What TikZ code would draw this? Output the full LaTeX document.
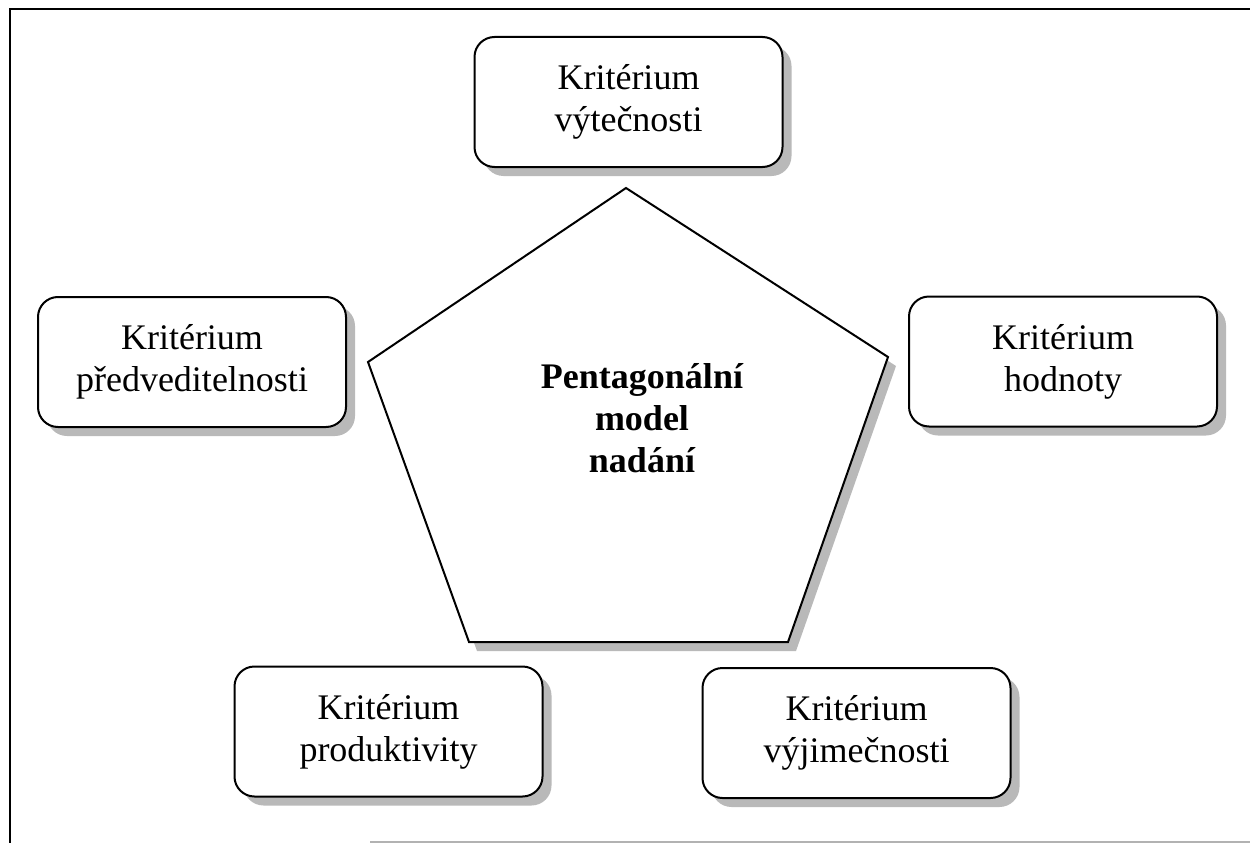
\documentclass[tikz,border=0pt]{standalone}
\usepackage{fontspec}
\setmainfont{Liberation Serif}
\usepackage{tikz}
\usetikzlibrary{shadows}

\tikzset{
  kritbox/.style={draw, line width=2pt, rounded corners=20pt, fill=white,
    minimum width=308pt, minimum height=130pt, align=center,
    font=\fontsize{36}{42}\selectfont,
    drop shadow={shadow xshift=9pt, shadow yshift=-9pt, fill=gray!55, opacity=1}},
  modeltext/.style={align=center, font=\fontsize{36}{42}\selectfont\bfseries}
}

\begin{document}
\begin{tikzpicture}[x=1pt,y=-1pt]
    \useasboundingbox (0,0) rectangle (1250,843);
    % frame
    \draw [line width=2pt](1250,9)--(10,9)--(10,843);
    \draw [line width=1.2pt,gray!60](370,842)--(1250,842);
    % pentagon
    \coordinate (ptop) at (626,188);
    \coordinate (pleft) at (368,362);
    \coordinate (pright) at (888,357);
    \coordinate (pbl) at (469,642);
    \coordinate (pbr) at (788,642);
    \fill [gray!55,transform canvas={xshift=8pt,yshift=-9pt}](ptop)--(pright)--(pbr)--(pbl)--(pleft)--cycle;
    \draw [line width=2pt,fill=white](ptop)--(pright)--(pbr)--(pbl)--(pleft)--cycle;
    \node [modeltext] (model) at (642,418) {Pentagonální\\model\\nadání};
    % criteria
    \node [kritbox] (vytecnost) at (628.5,102) {Kritérium\\výtečnosti};
    \node [kritbox] (predvid) at (192,362) {Kritérium\\předveditelnosti};
    \node [kritbox] (hodnota) at (1063,361.5) {Kritérium\\hodnoty};
    \node [kritbox] (produkt) at (388.5,731.5) {Kritérium\\produktivity};
    \node [kritbox] (vyjimec) at (856.5,733) {Kritérium\\výjimečnosti};
\end{tikzpicture}
\end{document}
